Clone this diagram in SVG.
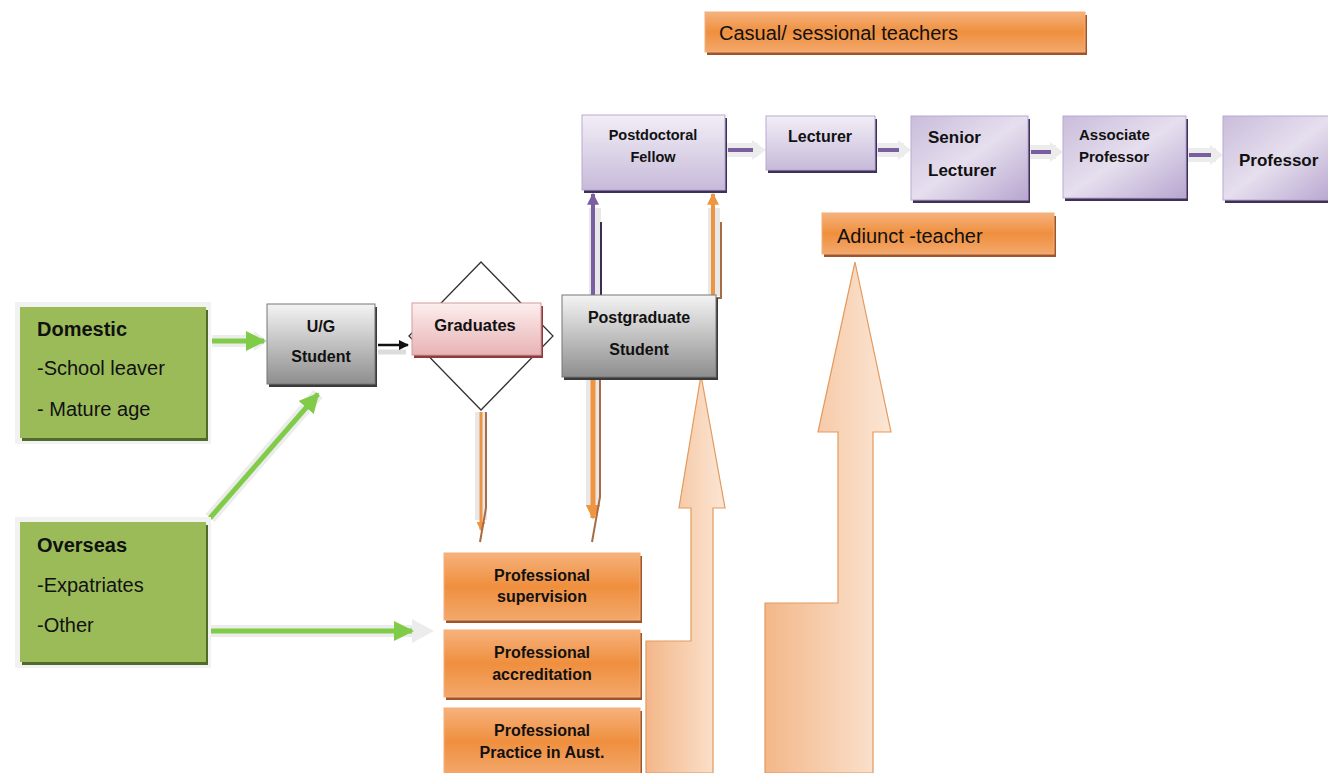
<svg xmlns="http://www.w3.org/2000/svg" width="1328" height="773" viewBox="0 0 1328 773">
<style>
.t{font-family:"Liberation Sans",Arial,sans-serif;fill:#111}
.b{font-weight:bold}
.halo{fill:none;stroke:#ececec;stroke-width:12}
</style>
<defs>
<linearGradient id="gGray" x1="0" y1="0" x2="0" y2="1"><stop offset="0" stop-color="#f4f4f4"/><stop offset="1" stop-color="#8e8e8e"/></linearGradient>
<linearGradient id="gPurple" x1="0" y1="0" x2="0" y2="1"><stop offset="0" stop-color="#f2eef7"/><stop offset="1" stop-color="#c7bad9"/></linearGradient>
<linearGradient id="gPurple2" x1="0" y1="0" x2="1" y2="1"><stop offset="0" stop-color="#c9bcdb"/><stop offset="0.5" stop-color="#e6dfee"/><stop offset="1" stop-color="#b7a6cf"/></linearGradient>
<linearGradient id="gPink" x1="0" y1="0" x2="0" y2="1"><stop offset="0" stop-color="#fdeeee"/><stop offset="1" stop-color="#e8b3b5"/></linearGradient>
<linearGradient id="gOrange" x1="0" y1="0" x2="0" y2="1"><stop offset="0" stop-color="#f6b27c"/><stop offset="0.5" stop-color="#ef8f3e"/><stop offset="1" stop-color="#f3a86c"/></linearGradient>
<linearGradient id="gPeach" x1="0" y1="0" x2="1" y2="0"><stop offset="0" stop-color="#f3b789"/><stop offset="1" stop-color="#fbe6d5"/></linearGradient>
<marker id="mGreen" viewBox="0 0 10 10" refX="9" refY="5" markerWidth="4" markerHeight="4" orient="auto" markerUnits="strokeWidth"><path d="M0,0 L10,5 L0,10 z" fill="#80cc48"/></marker>
<marker id="mBlack" viewBox="0 0 10 10" refX="9" refY="5" markerWidth="4" markerHeight="4" orient="auto" markerUnits="strokeWidth"><path d="M0,0 L10,5 L0,10 z" fill="#111"/></marker>
<marker id="mPurple" viewBox="0 0 10 10" refX="9" refY="5" markerWidth="3" markerHeight="3" orient="auto" markerUnits="strokeWidth"><path d="M0,0 L10,5 L0,10 z" fill="#7a5fa0"/></marker>
<marker id="mOrange" viewBox="0 0 10 10" refX="9" refY="5" markerWidth="3" markerHeight="3" orient="auto" markerUnits="strokeWidth"><path d="M0,0 L10,5 L0,10 z" fill="#ef9440"/></marker>
</defs>

<!-- big peach arrows -->
<g id="bigArrow1">
<path d="M646,773 L646,641 L691,641 L691,508 L679,508 L701,375 L725,508 L713,508 L713,773 Z" fill="url(#gPeach)" stroke="#e39a5e" stroke-width="1.2"/>
</g>
<g id="bigArrow2">
<path d="M765,773 L765,603 L838,603 L838,432 L818,432 L855,262 L891,432 L873,432 L873,773 Z" fill="url(#gPeach)" stroke="#e39a5e" stroke-width="1.2"/>
</g>

<g id="connectors">
<!-- Domestic -> U/G -->
<path class="halo" d="M212,341 L258,341"/>
<path d="M254,331 L268,341 L254,351 Z" fill="#ececec"/>
<path d="M212,341 L264,341" stroke="#80cc48" stroke-width="5" fill="none" marker-end="url(#mGreen)"/>
<!-- Overseas -> U/G -->
<path class="halo" d="M210,518 L318,394"/>
<path d="M210,518 L318,394" stroke="#80cc48" stroke-width="5" fill="none" marker-end="url(#mGreen)"/>
<!-- Overseas -> Professional -->
<path class="halo" d="M208,631 L418,631"/>
<path d="M412,619 L434,631 L412,643 Z" fill="#ececec"/>
<path d="M208,631 L412,631" stroke="#80cc48" stroke-width="5" fill="none" marker-end="url(#mGreen)"/>
<!-- U/G -> Graduates -->
<path d="M378,352 L406,352" stroke="#dcdcdc" stroke-width="5" fill="none"/>
<path d="M378,345 L408,345" stroke="#111" stroke-width="2.5" fill="none" marker-end="url(#mBlack)"/>
<!-- Graduates -> Professional supervision -->
<path d="M481,412 L481,520" stroke="#e8e8e8" stroke-width="12" fill="none"/>
<path d="M481,412 L481,530" stroke="#ef9440" stroke-width="3" fill="none" marker-end="url(#mOrange)"/>
<path d="M486,412 L486,508 L480,542" stroke="#a86c44" stroke-width="2" fill="none"/>
<!-- Postgraduate -> Professional supervision -->
<path d="M593,379 L593,505" stroke="#e8e8e8" stroke-width="14" fill="none"/>
<path d="M593,379 L593,518" stroke="#ef9440" stroke-width="5" fill="none" marker-end="url(#mOrange)"/>
<path d="M600,379 L600,497 L592,542" stroke="#a86c44" stroke-width="2" fill="none"/>
<!-- Postgraduate -> Postdoctoral (purple) -->
<path d="M595,296 L595,208" stroke="#e8e8e8" stroke-width="12" fill="none"/>
<path d="M593,296 L593,194" stroke="#7a5fa0" stroke-width="4" fill="none" marker-end="url(#mPurple)"/>
<path d="M588,298 L601,298 L601,222" stroke="#3c2e52" stroke-width="2" fill="none"/>
<!-- Postgraduate -> Postdoctoral (orange) -->
<path d="M714,296 L714,208" stroke="#e8e8e8" stroke-width="12" fill="none"/>
<path d="M713,296 L713,194" stroke="#ef9440" stroke-width="4" fill="none" marker-end="url(#mOrange)"/>
<path d="M708,298 L721,298 L721,222" stroke="#a86c44" stroke-width="2" fill="none"/>
<!-- purple chain -->
<path d="M727,150 L758,150" stroke="#ececec" stroke-width="14" fill="none"/>
<path d="M752,140 L766,150 L752,160 Z" fill="#ececec"/>
<path d="M728,150 L753,150" stroke="#7a5fa0" stroke-width="4" fill="none"/>
<path d="M877,150 L904,150" stroke="#ececec" stroke-width="14" fill="none"/>
<path d="M898,140 L911,150 L898,160 Z" fill="#ececec"/>
<path d="M878,150 L899,150" stroke="#7a5fa0" stroke-width="4" fill="none"/>
<path d="M1030,152 L1056,152" stroke="#ececec" stroke-width="14" fill="none"/>
<path d="M1050,142 L1063,152 L1050,162 Z" fill="#ececec"/>
<path d="M1031,152 L1051,152" stroke="#7a5fa0" stroke-width="4" fill="none"/>
<path d="M1188,155 L1216,155" stroke="#ececec" stroke-width="14" fill="none"/>
<path d="M1210,145 L1223,155 L1210,165 Z" fill="#ececec"/>
<path d="M1189,155 L1211,155" stroke="#7a5fa0" stroke-width="4" fill="none"/>
</g>

<g id="domestic">
<rect x="15" y="302" width="196" height="142" fill="#f2f2f2"/>
<rect x="22" y="310" width="186" height="131" fill="#4f6a2a"/>
<rect x="20" y="307" width="186" height="131" fill="#9bbb59"/>
<text class="t b" x="37" y="336" font-size="20">Domestic</text>
<text class="t" x="37" y="375" font-size="20">-School leaver</text>
<text class="t" x="37" y="416" font-size="20">- Mature age</text>
</g>

<g id="overseas">
<rect x="15" y="517" width="196" height="151" fill="#f2f2f2"/>
<rect x="22" y="525" width="186" height="140" fill="#4f6a2a"/>
<rect x="20" y="522" width="186" height="140" fill="#9bbb59"/>
<text class="t b" x="37" y="552" font-size="20">Overseas</text>
<text class="t" x="37" y="592" font-size="20">-Expatriates</text>
<text class="t" x="37" y="632" font-size="20">-Other</text>
</g>

<g id="ug">
<rect x="269" y="307" width="108" height="80" fill="#3a3a3a"/>
<rect x="267" y="304" width="108" height="80" fill="url(#gGray)" stroke="#777" stroke-width="1"/>
<text class="t b" x="321" y="332" font-size="16" text-anchor="middle">U/G</text>
<text class="t b" x="321" y="362" font-size="16" text-anchor="middle">Student</text>
</g>

<g id="graduates">
<path d="M481,262 L553,336 L481,410 L409,336 Z" fill="none" stroke="#333" stroke-width="1.3"/>
<rect x="414" y="306" width="129" height="52" fill="#8a3c3e"/>
<rect x="412" y="303" width="129" height="52" fill="url(#gPink)" stroke="#d8999c" stroke-width="1"/>
<text class="t b" x="475" y="331" font-size="16.5" text-anchor="middle">Graduates</text>
</g>

<g id="postgrad">
<rect x="564" y="298" width="154" height="82" fill="#3a3a3a"/>
<rect x="562" y="295" width="154" height="82" fill="url(#gGray)" stroke="#777" stroke-width="1"/>
<text class="t b" x="639" y="323" font-size="16" text-anchor="middle">Postgraduate</text>
<text class="t b" x="639" y="355" font-size="16" text-anchor="middle">Student</text>
</g>

<g id="postdoc">
<rect x="584" y="118" width="143" height="75" fill="#3e3058"/>
<rect x="582" y="115" width="143" height="75" fill="url(#gPurple)" stroke="#b9a9d0" stroke-width="1"/>
<text class="t b" x="653" y="140" font-size="14.5" text-anchor="middle">Postdoctoral</text>
<text class="t b" x="653" y="162" font-size="14.5" text-anchor="middle">Fellow</text>
</g>

<g id="lecturer">
<rect x="768" y="119" width="109" height="54" fill="#3e3058"/>
<rect x="766" y="116" width="109" height="54" fill="url(#gPurple)" stroke="#b9a9d0" stroke-width="1"/>
<text class="t b" x="820" y="142" font-size="16" text-anchor="middle">Lecturer</text>
</g>

<g id="senior">
<rect x="913" y="119" width="117" height="84" fill="#3e3058"/>
<rect x="911" y="116" width="117" height="84" fill="url(#gPurple2)" stroke="#b9a9d0" stroke-width="1"/>
<text class="t b" x="928" y="143" font-size="17">Senior</text>
<text class="t b" x="928" y="176" font-size="17">Lecturer</text>
</g>

<g id="associate">
<rect x="1065" y="119" width="123" height="82" fill="#3e3058"/>
<rect x="1063" y="116" width="123" height="82" fill="url(#gPurple2)" stroke="#b9a9d0" stroke-width="1"/>
<text class="t b" x="1079" y="140" font-size="15">Associate</text>
<text class="t b" x="1079" y="162" font-size="15">Professor</text>
</g>

<g id="professor">
<rect x="1225" y="119" width="110" height="84" fill="#3e3058"/>
<rect x="1223" y="116" width="110" height="84" fill="url(#gPurple2)" stroke="#b9a9d0" stroke-width="1"/>
<text class="t b" x="1239" y="166" font-size="17">Professor</text>
</g>

<g id="casual">
<rect x="707" y="15" width="380" height="40" fill="#a0542a"/>
<rect x="705" y="12" width="380" height="40" fill="url(#gOrange)" stroke="#f3b07a" stroke-width="1"/>
<text class="t" x="719" y="40" font-size="20">Casual/ sessional teachers</text>
</g>

<g id="adjunct">
<rect x="824" y="216" width="232" height="41" fill="#a0542a"/>
<rect x="822" y="213" width="232" height="41" fill="url(#gOrange)" stroke="#f3b07a" stroke-width="1"/>
<text class="t" x="837" y="243" font-size="20">Adiunct -teacher</text>
</g>

<g id="profSupervision">
<rect x="446" y="556" width="196" height="67" fill="#a0542a"/>
<rect x="444" y="553" width="196" height="67" fill="url(#gOrange)" stroke="#f3b07a" stroke-width="1"/>
<text class="t b" x="542" y="581" font-size="16" text-anchor="middle">Professional</text>
<text class="t b" x="542" y="602" font-size="16" text-anchor="middle">supervision</text>
</g>

<g id="profAccreditation">
<rect x="446" y="633" width="196" height="67" fill="#a0542a"/>
<rect x="444" y="630" width="196" height="67" fill="url(#gOrange)" stroke="#f3b07a" stroke-width="1"/>
<text class="t b" x="542" y="658" font-size="16" text-anchor="middle">Professional</text>
<text class="t b" x="542" y="680" font-size="16" text-anchor="middle">accreditation</text>
</g>

<g id="profPractice">
<rect x="446" y="711" width="196" height="67" fill="#a0542a"/>
<rect x="444" y="708" width="196" height="67" fill="url(#gOrange)" stroke="#f3b07a" stroke-width="1"/>
<text class="t b" x="542" y="736" font-size="16" text-anchor="middle">Professional</text>
<text class="t b" x="542" y="758" font-size="16" text-anchor="middle">Practice in Aust.</text>
</g>
</svg>
